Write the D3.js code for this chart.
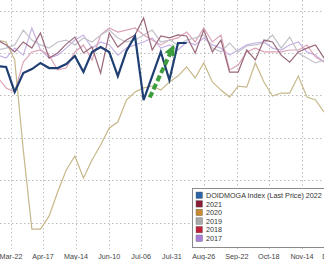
<!DOCTYPE html>
<html>
<head>
<meta charset="utf-8">
<script src="https://cdn.jsdelivr.net/npm/d3@7"></script>
<style>
  body { margin: 0; background: #fff; }
  svg { display: block; font-family: "Liberation Sans", Arial, sans-serif; }
</style>
</head>
<body>
<div id="chart-area"></div>
<script>
const WIDTH = 324
const HEIGHT = 260
const PLOT_BOTTOM = 249

// weekly observations (year is a dummy, only month-day matters)
const weeks = ["Mar-11","Mar-18","Mar-25","Apr-01","Apr-08","Apr-15","Apr-22","Apr-29",
  "May-06","May-13","May-20","May-27","Jun-03","Jun-10","Jun-17","Jun-24","Jul-01",
  "Jul-08","Jul-15","Jul-22","Jul-29","Aug-05","Aug-12","Aug-19","Aug-26","Sep-02",
  "Sep-09","Sep-16","Sep-23","Sep-30","Oct-07","Oct-14","Oct-21","Oct-28","Nov-04",
  "Nov-11","Nov-18","Nov-25","Dec-02"]

const tickLabels = ["Mar-22","Apr-17","May-14","Jun-10","Jul-06","Jul-31","Aug-26",
  "Sep-22","Oct-18","Nov-14","Dec-10"]

const yGrid = [20, 0, -20, -40, -60, -80]

const v2022 = [-6.2, -6.6, -18.4, -9.5, -7.6, -4.7, -7.1, -7.1, -5.2, -1.4, -9.0, 0.5,
  2.8, 0.5, -10.9, 0.9, 8.0, -22.2, -10.9, 0.5, -12.8, 4.7, 4.7]
const v2021 = [6.1, 3.8, 0.5, 5.2, 2.3, 9.4, -2.4, 0.0, 4.2, 7.5, 0.0, 2.8, -9.5, 9.4,
  2.8, 6.1, 8.5, 16.5, 1.4, 8.0, 7.1, 8.5, 8.0, 0.0, 10.8, 0.5, 6.1, -9.0, -9.0, 1.4,
  -3.3, 6.1, 5.2, -1.0, -4.3, 0.5, 2.3, 3.8, -2.4]
const v2020 = [6.1, 5.2, -3.3, -45.8, -83.1, -83.1, -77.0, -65.6, -55.2, -48.6, -59.0,
  -50.5, -43.4, -35.4, -32.6, -22.2, -18.4, -16.5, -15.6, -17.5, -13.7, -10.9, -6.6,
  -11.8, -4.7, -13.7, -17.5, -20.8, -15.6, -16.1, -4.7, -13.7, -20.3, -18.9, -18.9,
  -10.9, -20.8, -22.2, -27.9]
const v2019 = [1.4, 2.3, 3.8, 10.8, 6.1, 3.8, 2.3, 5.2, 6.1, 3.8, 7.1, 5.2, 8.5, 10.8,
  7.1, 5.2, 6.1, 8.5, 10.8, 5.2, 6.1, 3.8, 6.1, 7.1, 8.5, 2.3, 0.5, 4.7, 0.5, 3.3, 3.8,
  4.7, 8.5, 2.3, 7.5, 0.0, -2.4, -4.7, -3.3]
const v2018 = [-11.3, -16.5, -18.4, -4.3, 0.5, 1.4, -1.0, -8.0, -7.1, 0.5, 3.8, -3.3,
  8.5, 11.8, 9.9, 10.8, 11.8, 8.5, 6.1, 3.8, 6.1, 7.1, 9.9, 5.2, 11.8, 5.2, 8.5, -8.0,
  -5.7, 0.5, 2.3, 0.5, 0.5, 0.5, 1.4, 1.4, 3.8, -1.9, -4.3]
const v2017 = [-1.0, -2.4, 2.3, -1.0, 11.8, 1.4, -2.4, -1.0, 2.3, 6.1, 8.5, 2.3, 5.2,
  3.8, -1.0, 2.3, 3.8, 5.2, 7.1, 2.3, 3.8, 1.4, 5.2, 3.8, 7.1, 3.8, 2.3, -1.0, 1.4, 3.8,
  4.7, 5.2, 2.3, 1.4, 3.8, 5.2, 0.5, -1.0, -4.3]

const legendLabels = ["DOIDMOGA Index (Last Price) 2022", "2021", "2020", "2019", "2018", "2017"]
const legendColors = ["#2b62a8", "#8a1c36", "#c98a32", "#a9a9a9", "#c0203a", "#a77ed8"]

// annotation arrow (start, tip)
const arrowPts = [{ d: "Jul-13", v: -21 }, { d: "Aug-02", v: 4 }]

const parse = s => d3.timeParse("%b-%d-%Y")(s + "-2022")

const series = [
  { values: v2017, color: "#c6b2e4", width: 1.2 },
  { values: v2018, color: "#dba4b8", width: 1.2 },
  { values: v2019, color: "#c2c2cb", width: 1.2 },
  { values: v2020, color: "#c6b88a", width: 1.2 },
  { values: v2021, color: "#9a687c", width: 1.2 },
  { values: v2022, color: "#1f3e72", width: 2.2 }
]

const svg = d3.select("#chart-area")
  .append("svg")
  .attr("width", WIDTH)
  .attr("height", HEIGHT)

const x = d3.scaleTime()
  .domain([parse("Mar-22"), parse("Nov-14")])
  .range([11, 302])

const y = d3.scaleLinear()
  .domain([-92.5, 25])
  .range([PLOT_BOTTOM, 0])

// grid
svg.append("g").selectAll("line.h")
  .data(yGrid)
  .join("line")
  .attr("x1", 0).attr("x2", WIDTH)
  .attr("y1", d => Math.round(y(d)) + 0.5)
  .attr("y2", d => Math.round(y(d)) + 0.5)
  .attr("stroke", "#bdbdbd")
  .attr("stroke-dasharray", "1.5,2.5")

svg.append("g").selectAll("line.v")
  .data(tickLabels)
  .join("line")
  .attr("x1", d => Math.round(x(parse(d))) + 0.5)
  .attr("x2", d => Math.round(x(parse(d))) + 0.5)
  .attr("y1", 0).attr("y2", PLOT_BOTTOM)
  .attr("stroke", "#bdbdbd")
  .attr("stroke-dasharray", "1.5,2.5")

// lines
svg.append("clipPath").attr("id", "plot-clip")
  .append("rect").attr("x", 0).attr("y", 0).attr("width", WIDTH).attr("height", PLOT_BOTTOM)

const line = d3.line()
  .x((d, i) => x(parse(weeks[i])))
  .y(d => y(d))

const lines = svg.append("g").attr("clip-path", "url(#plot-clip)")
series.forEach(s => {
  lines.append("path")
    .attr("d", line(s.values))
    .attr("fill", "none")
    .attr("stroke", s.color)
    .attr("stroke-width", s.width)
    .attr("stroke-linejoin", "miter")
})

// green arrow
svg.append("defs").append("marker")
  .attr("id", "head")
  .attr("markerUnits", "userSpaceOnUse")
  .attr("viewBox", "0 0 10 10")
  .attr("refX", 2).attr("refY", 5)
  .attr("markerWidth", 11).attr("markerHeight", 11)
  .attr("orient", "auto")
  .append("path")
  .attr("d", "M0,0 L10,5 L0,10 Z")
  .attr("fill", "#3d9d3d")

const ax0 = x(parse(arrowPts[0].d)), ay0 = y(arrowPts[0].v)
const ax1 = x(parse(arrowPts[1].d)), ay1 = y(arrowPts[1].v)
const len = Math.hypot(ax1 - ax0, ay1 - ay0)
const k = (len - 9) / len
svg.append("line")
  .attr("x1", ax0).attr("y1", ay0)
  .attr("x2", ax0 + (ax1 - ax0) * k).attr("y2", ay0 + (ay1 - ay0) * k)
  .attr("stroke", "#3d9d3d")
  .attr("stroke-width", 4)
  .attr("stroke-dasharray", "6,3")
  .attr("marker-end", "url(#head)")

// x labels
svg.append("g").selectAll("text")
  .data(tickLabels)
  .join("text")
  .attr("x", d => x(parse(d)))
  .attr("y", 258.5)
  .attr("text-anchor", "middle")
  .attr("font-size", "7.2px")
  .attr("fill", "#444")
  .text(d => d)

// legend
const lg = svg.append("g")
lg.append("rect")
  .attr("x", 192.5).attr("y", 188.5)
  .attr("width", 140).attr("height", 59)
  .attr("fill", "#fff")
  .attr("stroke", "#8a8a8a")

const rows = lg.selectAll("g.row")
  .data(legendLabels)
  .join("g")
  .attr("transform", (d, i) => `translate(196, ${192 + i * 8.6})`)

rows.append("rect")
  .attr("width", 6.5).attr("height", 6.5)
  .attr("fill", (d, i) => legendColors[i])
  .attr("stroke", "#666")
  .attr("stroke-width", 0.4)

rows.append("text")
  .attr("x", 10).attr("y", 6)
  .attr("font-size", "7.2px")
  .attr("fill", "#333")
  .text(d => d)
</script>
</body>
</html>
